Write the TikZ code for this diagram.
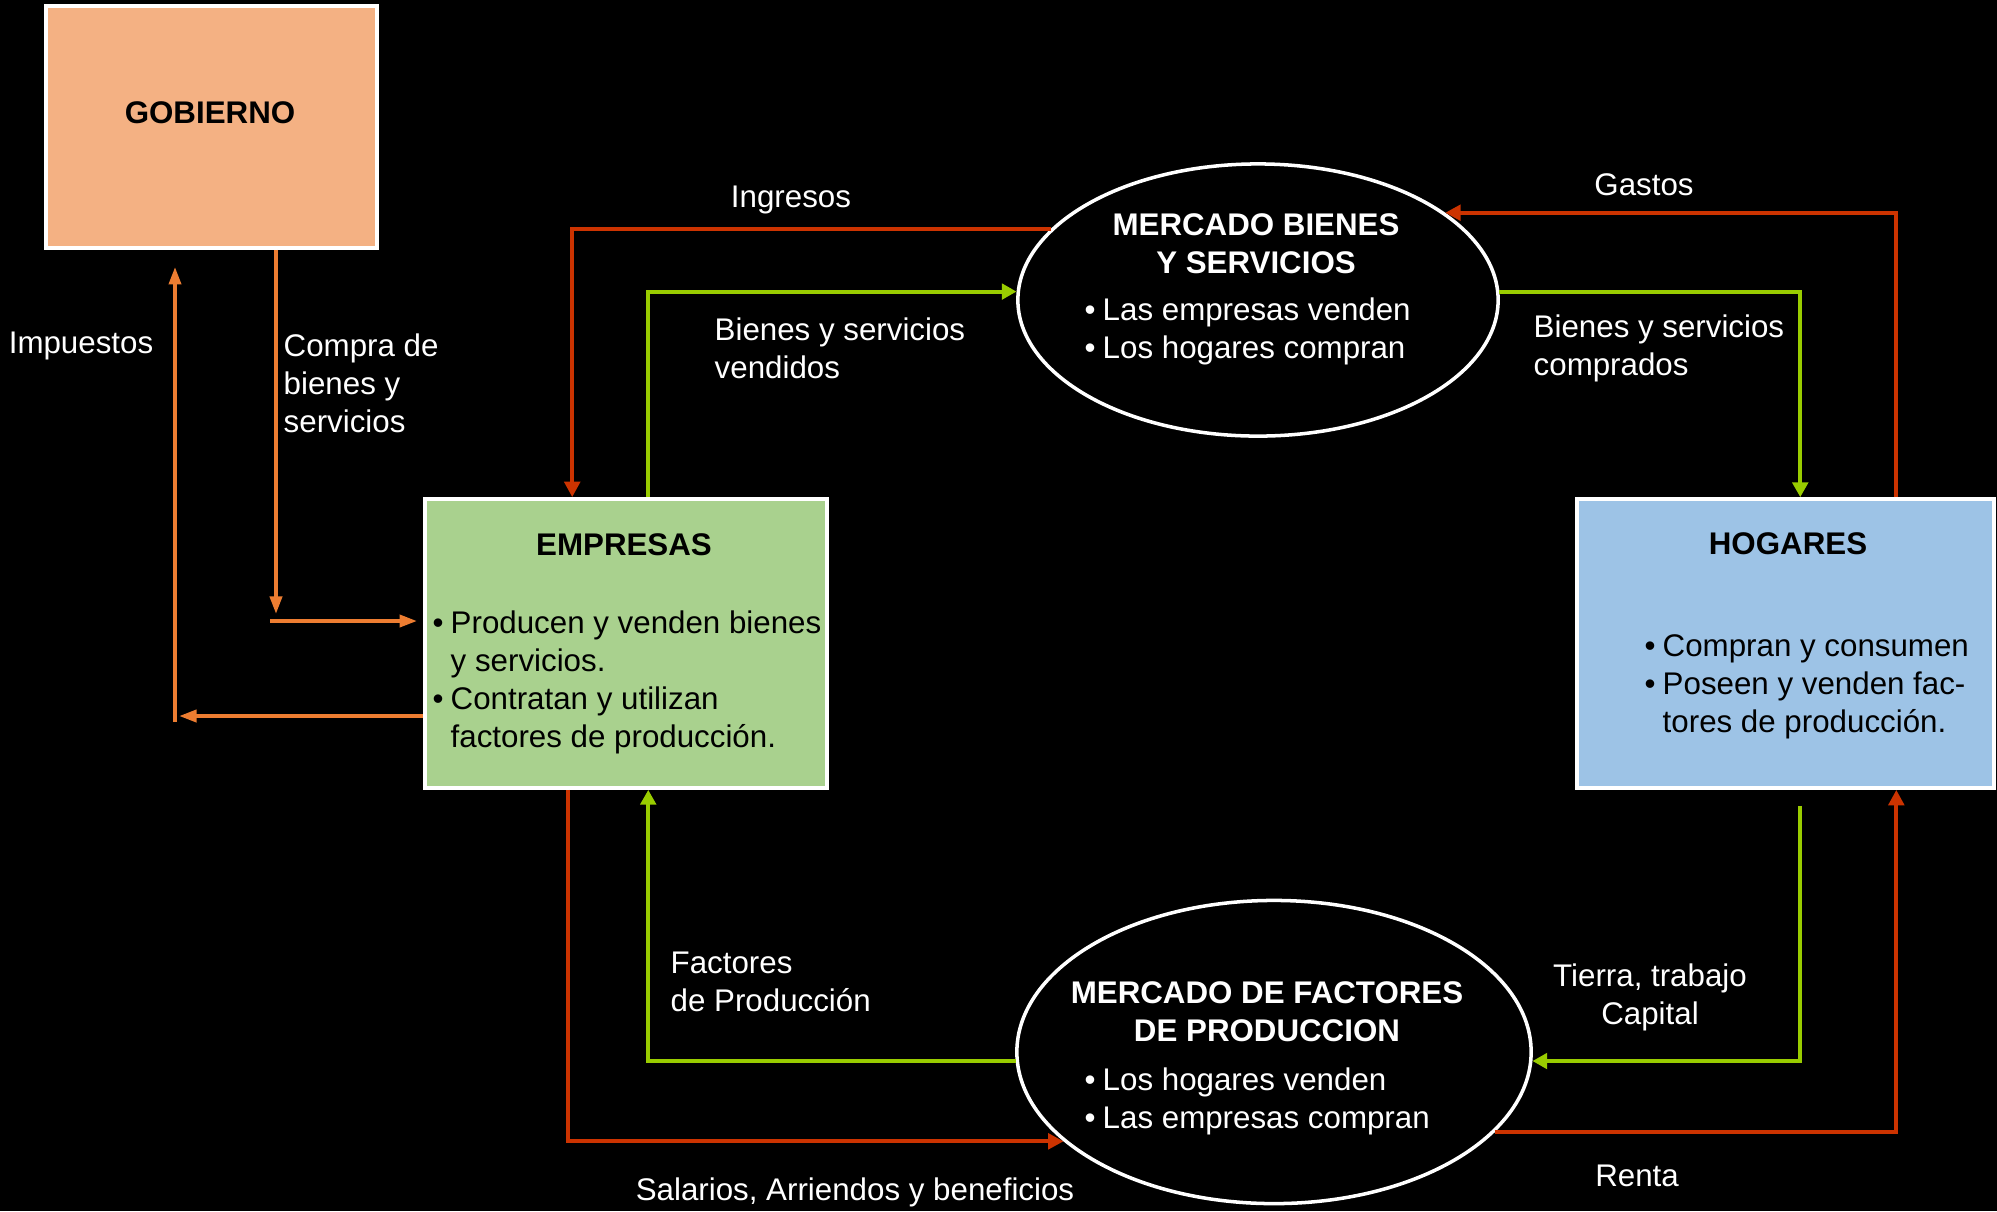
\documentclass[tikz,border=0pt]{standalone}
\usepackage{fontspec}
\setmainfont{Liberation Sans}
\usepackage{tikz}
\usetikzlibrary{shapes.geometric}
\usetikzlibrary{positioning}
\usetikzlibrary{arrows.meta}
\usepackage{xcolor}

\definecolor{gobfill}{HTML}{F4B183}
\definecolor{empfill}{HTML}{A9D18E}
\definecolor{hogfill}{HTML}{9DC3E6}
\definecolor{naranja}{HTML}{ED7D31}
\definecolor{rojo}{HTML}{CC3300}
\definecolor{verde}{HTML}{99CC00}

\newcommand{\txtsize}{\fontsize{8.9pt}{10.8pt}\selectfont}
\newcommand{\vineta}{\makebox[0.18cm][l]{\textbullet}}
\newcommand{\sangria}{\hspace*{0.18cm}}

\begin{document}
\begin{tikzpicture}[x=0.01cm, y=-0.01cm,
    caja/.style={draw=white, line width=1pt, rectangle, inner sep=0pt},
    mercado/.style={draw=white, line width=1pt, ellipse, fill=black, inner sep=0pt},
    lbl/.style={font=\txtsize, text=white, inner sep=0pt},
    titulo/.style={font=\txtsize\bfseries, inner sep=0pt},
    flecharoja/.style={draw=rojo, line width=1.1pt, -{Triangle[length=4.4pt,width=4.4pt]}},
    flechaverde/.style={draw=verde, line width=1.1pt, -{Triangle[length=4.2pt,width=4.4pt]}},
    flechanaranja/.style={draw=naranja, line width=1.1pt, -{Triangle[length=5pt,width=3.4pt]}}]
            % flujo circular de la economia
            \useasboundingbox (0,0) rectangle (1997,1211);
            \fill[black] (0,0) rectangle (1997,1211);

            \node[caja, fill=gobfill, minimum width=3.31cm, minimum height=2.42cm] (gob) at (211.5,127) {};
            \node[caja, fill=empfill, minimum width=4.02cm, minimum height=2.89cm] (emp) at (626,643.5) {};
            \node[caja, fill=hogfill, minimum width=4.17cm, minimum height=2.89cm] (hog) at (1785.5,643.5) {};
            \node[mercado, minimum width=4.8cm, minimum height=2.72cm] (bien) at (1258,300) {};
            \node[mercado, minimum width=5.14cm, minimum height=3.03cm] (fact) at (1274,1052) {};

            \node[titulo] (gobtit) at (210,113) {GOBIERNO};
            \node[titulo] (emptit) at (624,545) {EMPRESAS};
            \node[font=\txtsize, inner sep=0pt, align=left, anchor=west] (empitems) at (432,682.5)
                {\vineta Producen y venden bienes\\\sangria y servicios.\\\vineta Contratan y utilizan\\\sangria factores de producción.};
            \node[titulo] (hogtit) at (1788,544) {HOGARES};
            \node[font=\txtsize, inner sep=0pt, align=left, anchor=west] (hogitems) at (1644,687)
                {\vineta Compran y consumen\\\vineta Poseen y venden fac-\\\sangria tores de producción.};
            \node[titulo, text=white, align=center] (bientit) at (1256,243.5) {MERCADO BIENES\\Y SERVICIOS};
            \node[lbl, align=left, anchor=west] (bienitems) at (1084,331.5) {\vineta Las empresas venden\\\vineta Los hogares compran};
            \node[titulo, text=white, align=center] (facttit) at (1267,1012) {MERCADO DE FACTORES\\DE PRODUCCION};
            \node[lbl, align=left, anchor=west] (factitems) at (1084,1101) {\vineta Los hogares venden\\\vineta Las empresas compran};

            % flujos de bienes y de dinero
            \draw[flecharoja] (bien.161) -| ([xshift=1.49cm]emp.north west);
            \draw[flechaverde] ([xshift=2.25cm]emp.north west) |- (bien.178);
            \draw[flechaverde] (bien.2) -| ([xshift=2.25cm]hog.north west);
            \draw[flecharoja] ([xshift=3.21cm]hog.north west) |- (bien.25);
            \draw[flecharoja] ([xshift=1.45cm]emp.south west) |- (fact.203);
            \draw[flechaverde] (fact.182) -| ([xshift=2.25cm]emp.south west);
            \draw[flechaverde] ([xshift=2.25cm,yshift=-0.16cm]hog.south west) |- (fact.-2);
            \draw[flecharoja] (fact.-20) -| ([xshift=3.21cm]hog.south west);

            % gobierno
            \coordinate (cmpa) at (276,614);
            \coordinate (cmpb) at (270,621);
            \coordinate (impa) at (179,716);
            \coordinate (impb) at (175,722);
            \draw[flechanaranja] (cmpa |- gob.south) -- (cmpa);
            \draw[flechanaranja] (cmpb) -- ([xshift=-0.06cm]cmpb -| emp.west);
            \draw[flechanaranja] (impa -| emp.west) -- (impa);
            \draw[flechanaranja, shorten >=0.17cm] (impb) -- (impb |- gob.south);

            \node[lbl] (ingresos) at (791,200) {Ingresos};
            \node[lbl, align=left, anchor=west] (vendidos) at (714,348) {Bienes y servicios\\vendidos};
            \node[lbl] (gastos) at (1644,185) {Gastos};
            \node[lbl, align=left, anchor=west] (comprados) at (1533,348) {Bienes y servicios\\comprados};
            \node[lbl] (impuestos) at (81,346) {Impuestos};
            \node[lbl, align=left, anchor=west] (compra) at (283,383) {Compra de\\bienes y\\servicios};
            \node[lbl, align=left, anchor=west] (factores) at (670,981.5) {Factores\\de Producción};
            \node[lbl, align=center] (tierra) at (1650,997) {Tierra, trabajo\\Capital};
            \node[lbl] (salarios) at (855,1192) {Salarios, Arriendos y beneficios};
            \node[lbl] (renta) at (1637,1176) {Renta};
        \end{tikzpicture}
\end{document}
